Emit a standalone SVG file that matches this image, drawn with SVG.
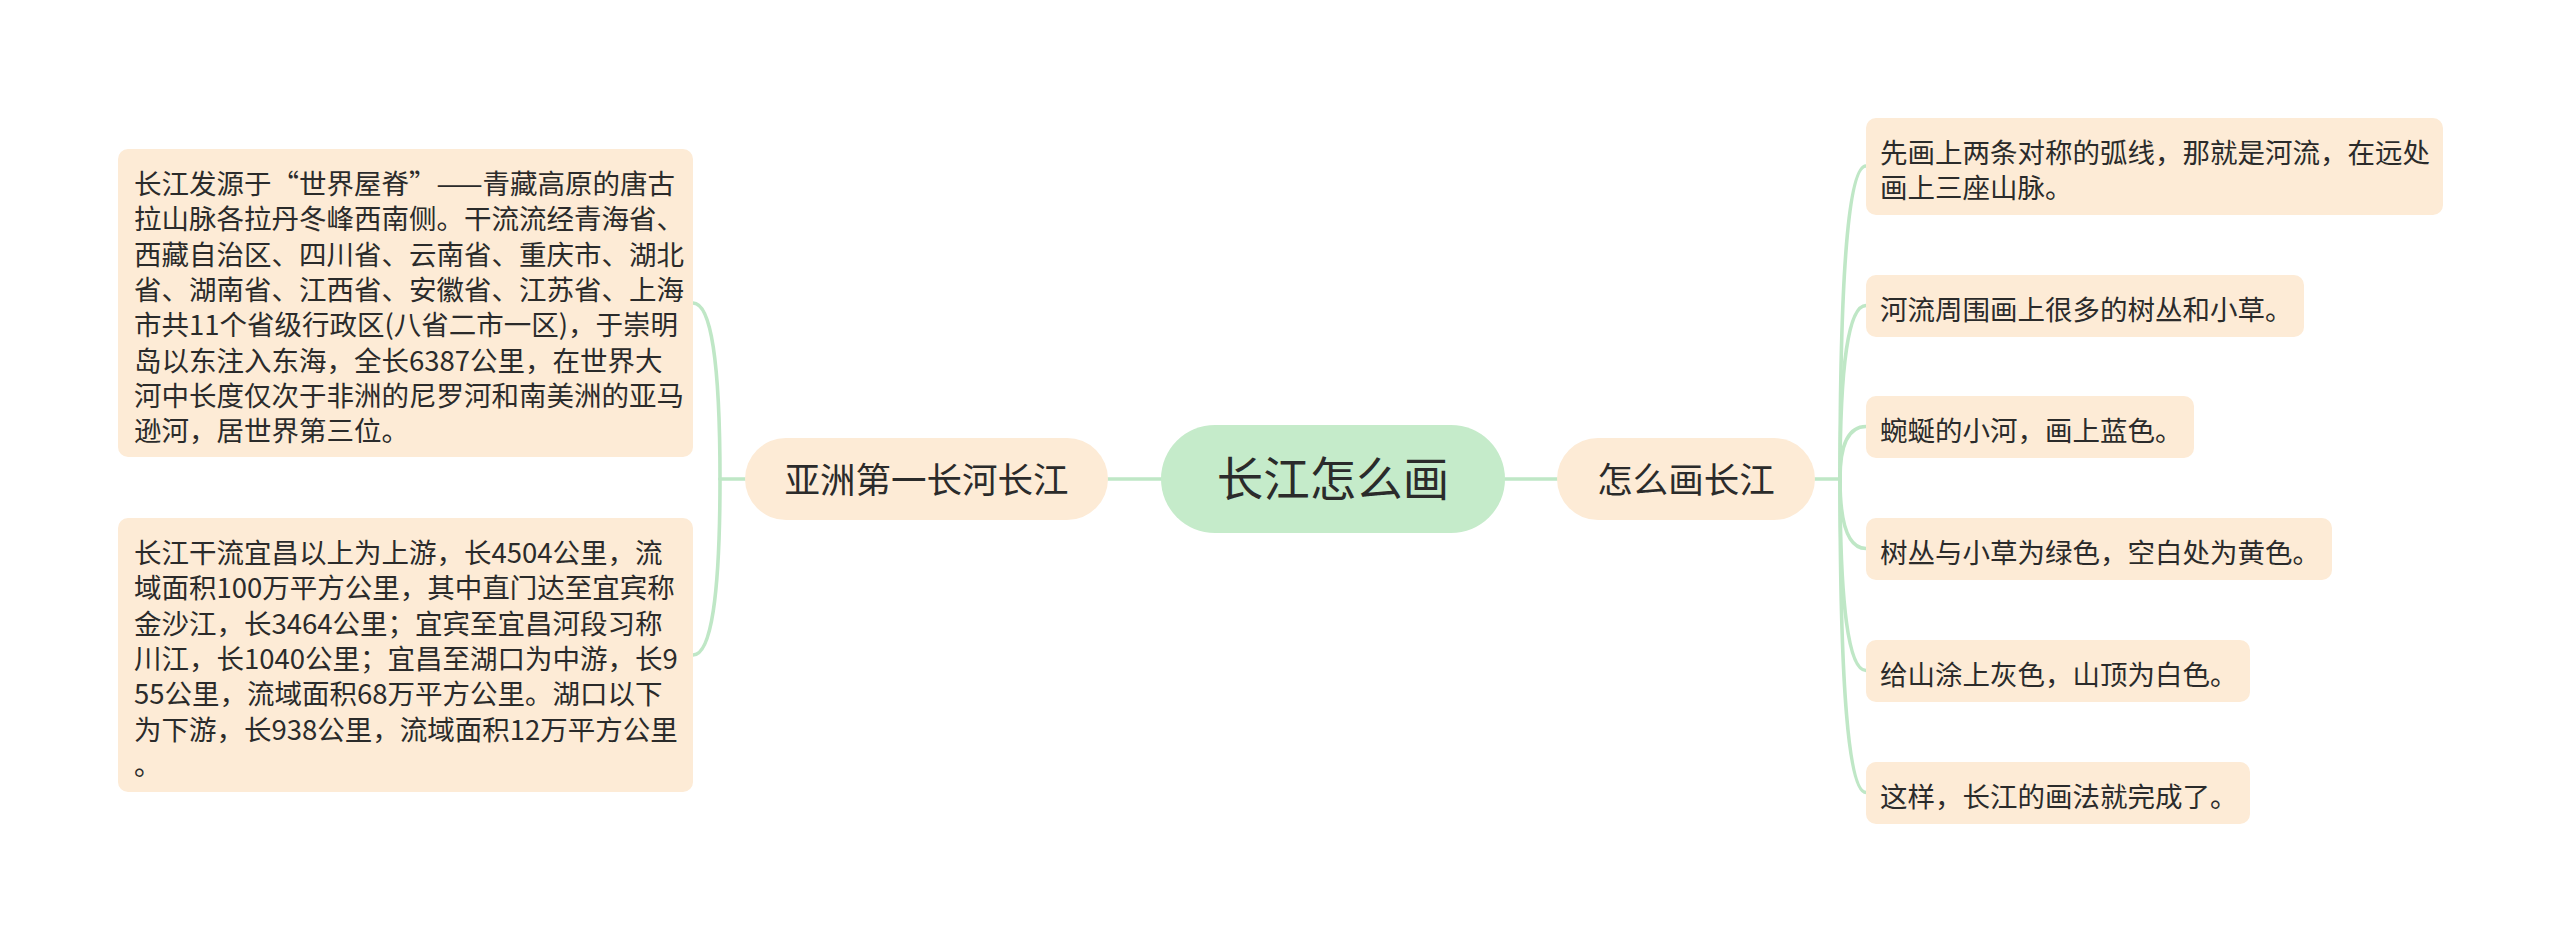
<svg xmlns="http://www.w3.org/2000/svg" width="2560" height="941" viewBox="0 0 2560 941">
<style>
.bg{fill:#ffffff}
.box{fill:#fdebd6}
.root{fill:#c5ebca}
.t{font-family:"Noto Sans CJK SC","Noto Sans",sans-serif;fill:#2b2b2b}
.body{font-size:27.5px}
.mid{font-size:35.5px}
.main{font-size:46.5px}
.c{fill:none;stroke:#bfe7c6;stroke-width:3.6;stroke-linecap:round}
</style>
<rect class="bg" x="0" y="0" width="2560" height="941"/>
<g id="connectors">
<path class="c" d="M1108 479 H1161"/>
<path class="c" d="M1505 479 H1557"/>
<path class="c" d="M745 479 H720"/>
<path class="c" d="M720 479 Q720 303 693 303"/>
<path class="c" d="M720 479 Q720 655 693 655"/>
<path class="c" d="M1815 479 H1840"/>
<path class="c" d="M1840 479 Q1840 166 1866 166"/>
<path class="c" d="M1840 479 Q1840 305.5 1866 305.5"/>
<path class="c" d="M1840 479 Q1840 426.5 1866 426.5"/>
<path class="c" d="M1840 479 Q1840 548.5 1866 548.5"/>
<path class="c" d="M1840 479 Q1840 670.5 1866 670.5"/>
<path class="c" d="M1840 479 Q1840 792.5 1866 792.5"/>
</g>
<g id="root">
<rect class="root" x="1161" y="425" width="344" height="108" rx="54"/>
<text class="t main" x="1333" y="495.5" text-anchor="middle">长江怎么画</text>
</g>
<g id="node-left">
<rect class="box" x="745" y="438" width="363" height="82" rx="41"/>
<text class="t mid" x="926.5" y="493" text-anchor="middle">亚洲第一长河长江</text>
</g>
<g id="node-right">
<rect class="box" x="1557" y="438" width="258" height="82" rx="41"/>
<text class="t mid" x="1686" y="493" text-anchor="middle">怎么画长江</text>
</g>
<g id="left-1">
<rect class="box" x="118" y="149" width="575" height="308" rx="10"/>
<text class="t body" x="134">
<tspan x="134" y="194">长江发源于“世界屋脊”——青藏高原的唐古</tspan>
<tspan x="134" y="229.3">拉山脉各拉丹冬峰西南侧。干流流经青海省、</tspan>
<tspan x="134" y="264.6">西藏自治区、四川省、云南省、重庆市、湖北</tspan>
<tspan x="134" y="299.9">省、湖南省、江西省、安徽省、江苏省、上海</tspan>
<tspan x="134" y="335.2">市共11个省级行政区(八省二市一区)，于崇明</tspan>
<tspan x="134" y="370.5">岛以东注入东海，全长6387公里，在世界大</tspan>
<tspan x="134" y="405.8">河中长度仅次于非洲的尼罗河和南美洲的亚马</tspan>
<tspan x="134" y="441.1">逊河，居世界第三位。</tspan>
</text>
</g>
<g id="left-2">
<rect class="box" x="118" y="518" width="575" height="274" rx="10"/>
<text class="t body" x="134">
<tspan x="134" y="563">长江干流宜昌以上为上游，长4504公里，流</tspan>
<tspan x="134" y="598.3">域面积100万平方公里，其中直门达至宜宾称</tspan>
<tspan x="134" y="633.6">金沙江，长3464公里；宜宾至宜昌河段习称</tspan>
<tspan x="134" y="668.9">川江，长1040公里；宜昌至湖口为中游，长9</tspan>
<tspan x="134" y="704.2">55公里，流域面积68万平方公里。湖口以下</tspan>
<tspan x="134" y="739.5">为下游，长938公里，流域面积12万平方公里</tspan>
<tspan x="134" y="774.8">。</tspan>
</text>
</g>
<g id="right-1">
<rect class="box" x="1866" y="118" width="577" height="97" rx="10"/>
<text class="t body" x="1880">
<tspan x="1880" y="163">先画上两条对称的弧线，那就是河流，在远处</tspan>
<tspan x="1880" y="198.3">画上三座山脉。</tspan>
</text>
</g>
<g id="right-2">
<rect class="box" x="1866" y="275" width="438" height="62" rx="10"/>
<text class="t body" x="1880" y="320">河流周围画上很多的树丛和小草。</text>
</g>
<g id="right-3">
<rect class="box" x="1866" y="396" width="328" height="62" rx="10"/>
<text class="t body" x="1880" y="441">蜿蜒的小河，画上蓝色。</text>
</g>
<g id="right-4">
<rect class="box" x="1866" y="518" width="466" height="62" rx="10"/>
<text class="t body" x="1880" y="563">树丛与小草为绿色，空白处为黄色。</text>
</g>
<g id="right-5">
<rect class="box" x="1866" y="640" width="384" height="62" rx="10"/>
<text class="t body" x="1880" y="685">给山涂上灰色，山顶为白色。</text>
</g>
<g id="right-6">
<rect class="box" x="1866" y="762" width="384" height="62" rx="10"/>
<text class="t body" x="1880" y="807">这样，长江的画法就完成了。</text>
</g>
</svg>
